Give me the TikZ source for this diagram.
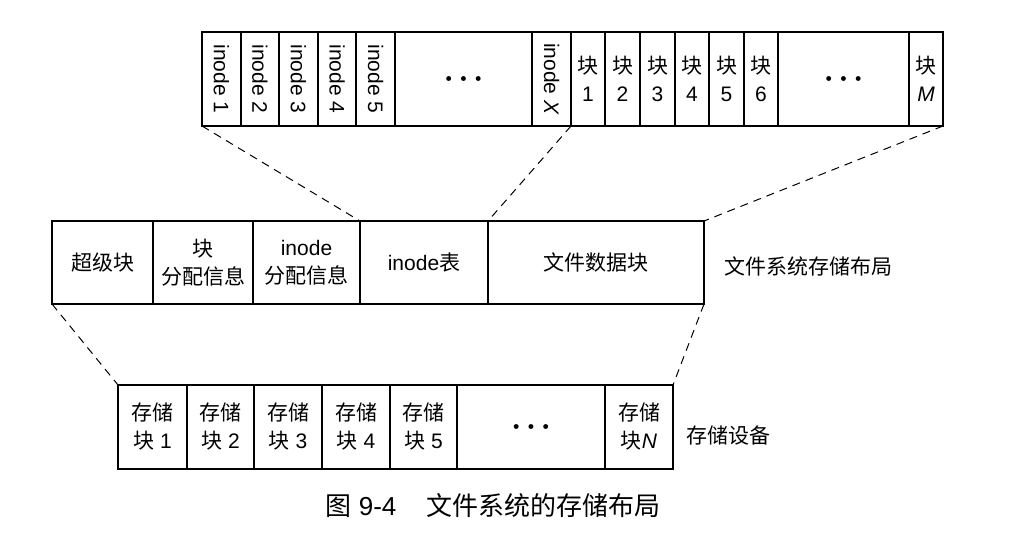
\documentclass[tikz,border=0pt]{standalone}
\usepackage{fontspec}
\setmainfont{Liberation Sans}
\newfontfamily\cjk{Noto Sans CJK SC}
\usetikzlibrary{fit}

\newcommand\celldots{{\fontsize{5}{5}\selectfont$\bullet\;\bullet\;\bullet$}}

\tikzset{
  cell/.style={draw, line width=0.7pt, inner sep=0pt, outer sep=0pt},
  ctext/.style={align=center, inner sep=0pt, font=\fontsize{10.5}{14}\selectfont},
  vtext/.style={rotate=-90, inner sep=0pt, font=\fontsize{10.5}{14}\selectfont},
  link/.style={line width=0.5pt, dash pattern=on 4pt off 3pt}
}

\begin{document}
\begin{tikzpicture}[x=0.5pt, y=-0.5pt]
\useasboundingbox (0,0) rectangle (1036,540);

% inode table and data blocks
\node [cell, fit={(202,32) (241,126)}] (in1) {};
\node [cell, fit={(241,32) (279,126)}] (in2) {};
\node [cell, fit={(279,32) (318,126)}] (in3) {};
\node [cell, fit={(318,32) (356,126)}] (in4) {};
\node [cell, fit={(356,32) (395,126)}] (in5) {};
\node [cell, fit={(395,32) (532,126)}] (indots) {};
\node [cell, fit={(532,32) (571,126)}] (inX) {};
\node [vtext] at (in1.center) {inode 1};
\node [vtext] at (in2.center) {inode 2};
\node [vtext] at (in3.center) {inode 3};
\node [vtext] at (in4.center) {inode 4};
\node [vtext] at (in5.center) {inode 5};
\node [ctext] at (indots.center) {\celldots};
\node [vtext] at (inX.center) {inode \textit{X}};

\node [cell, fit={(571,32) (605,126)}] (b1) {};
\node [cell, fit={(605,32) (640,126)}] (b2) {};
\node [cell, fit={(640,32) (675,126)}] (b3) {};
\node [cell, fit={(675,32) (709,126)}] (b4) {};
\node [cell, fit={(709,32) (744,126)}] (b5) {};
\node [cell, fit={(744,32) (778,126)}] (b6) {};
\node [cell, fit={(778,32) (909,126)}] (bdots) {};
\node [cell, fit={(909,32) (943,126)}] (bM) {};
\node [ctext] at (b1.center) {{\cjk 块}\\1};
\node [ctext] at (b2.center) {{\cjk 块}\\2};
\node [ctext] at (b3.center) {{\cjk 块}\\3};
\node [ctext] at (b4.center) {{\cjk 块}\\4};
\node [ctext] at (b5.center) {{\cjk 块}\\5};
\node [ctext] at (b6.center) {{\cjk 块}\\6};
\node [ctext] at (bdots.center) {\celldots};
\node [ctext] at (bM.center) {{\cjk 块}\\\textit{M}};

% file system layout
\node [cell, fit={(52,221) (153,304)}] (sb) {};
\node [cell, fit={(153,221) (253,304)}] (ba) {};
\node [cell, fit={(253,221) (360,304)}] (ia) {};
\node [cell, fit={(360,221) (488,304)}] (it) {};
\node [cell, fit={(488,221) (704,304)}] (fd) {};
\node [ctext] at (sb.center) {\cjk 超级块};
\node [ctext] at (ba.center) {\cjk 块\\\cjk 分配信息};
\node [ctext] at (ia.center) {inode\\\cjk 分配信息};
\node [ctext] at (it.center) {inode{\cjk 表}};
\node [ctext] at (fd.center) {\cjk 文件数据块};
\node [ctext, anchor=west] (fslabel) at (724,266) {\cjk 文件系统存储布局};

% storage device
\node [cell, fit={(118,385) (187,469)}] (s1) {};
\node [cell, fit={(187,385) (254,469)}] (s2) {};
\node [cell, fit={(254,385) (322,469)}] (s3) {};
\node [cell, fit={(322,385) (390,469)}] (s4) {};
\node [cell, fit={(390,385) (457,469)}] (s5) {};
\node [cell, fit={(457,385) (605,469)}] (sdots) {};
\node [cell, fit={(605,385) (673,469)}] (sN) {};
\node [ctext] at (s1.center) {{\cjk 存储}\\{\cjk 块} 1};
\node [ctext] at (s2.center) {{\cjk 存储}\\{\cjk 块} 2};
\node [ctext] at (s3.center) {{\cjk 存储}\\{\cjk 块} 3};
\node [ctext] at (s4.center) {{\cjk 存储}\\{\cjk 块} 4};
\node [ctext] at (s5.center) {{\cjk 存储}\\{\cjk 块} 5};
\node [ctext] at (sdots.center) {\celldots};
\node [ctext] at (sN.center) {{\cjk 存储}\\{\cjk 块}\textit{N}};
\node [ctext, anchor=west] (devlabel) at (686,436) {\cjk 存储设备};

% dashed links
\draw [link] (in1.south west) -- (it.north west);
\draw [link] (inX.south east) -- (fd.north west);
\draw [link] (bM.south east) -- (fd.north east);
\draw [link] (sb.south west) -- (s1.north west);
\draw [link] (fd.south east) -- (sN.north east);

\node [font=\fontsize{13}{16}\selectfont] (caption) at (493,506) {{\cjk 图} 9-4\hspace{15pt}{\cjk 文件系统的存储布局}};

\end{tikzpicture}
\end{document}
